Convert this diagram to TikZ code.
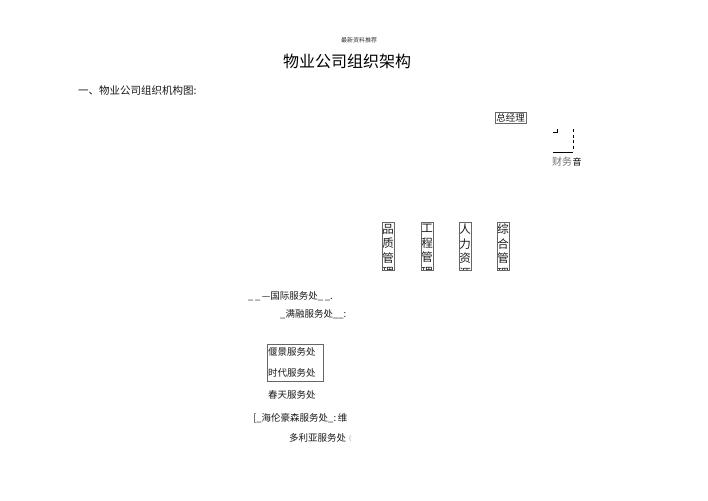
\documentclass[tikz,border=0pt]{standalone}
\usepackage{fontspec}
\setmainfont{Noto Sans CJK SC}
\begin{document}
\begin{tikzpicture}[x=1pt,y=-1pt,
  txt/.style={inner sep=0pt, anchor=west, font=\fontsize{9.5}{10}\selectfont, text=black!90},
  vbox/.style={inner sep=0pt, anchor=north, align=center, font=\fontsize{11.5}{14.5}\selectfont, text=black!90},
  frame/.style={draw=black!60, line width=0.5pt}]
\useasboundingbox (0,0) rectangle (708,500);
\node[inner sep=0pt, font=\fontsize{6}{6}\selectfont, text=black!80] (hdr) at (359,40) {最新资料推荐};
\node[inner sep=0pt, font=\fontsize{16}{16}\selectfont] (title) at (347,61) {物业公司组织架构};
\node[txt, font=\fontsize{10.5}{11}\selectfont] (sec) at (78,91) {一、物业公司组织机构图:};
\node[frame, inner sep=1pt, anchor=west, font=\fontsize{9.5}{10}\selectfont, text=black!90] (gm) at (495,118) {总经理};
% corner marks
\coordinate (c1) at (553,132);
\coordinate (c2) at (557,132);
\coordinate (c3) at (557,129);
\draw[line width=0.6pt] (c1) -- (c2) -- (c3);
\coordinate (d1) at (573,129);
\coordinate (d2) at (573,151);
\draw[line width=0.8pt, dash pattern=on 3pt off 2.5pt] (d1) -- (d2);
\coordinate (h1) at (553,152.5);
\coordinate (h2) at (573.4,152.5);
\draw[line width=0.8pt] (h1) -- (h2);
\node[txt, text=black!55, font=\fontsize{10}{10}\selectfont] (cw) at (552,162) {财务};
\node[txt, text=black, font=\fontsize{9}{9}\selectfont] (cw2) at (cw.east) {音};
% vertical departments
\begin{scope}
\clip (382,222) rectangle (394,270);
\node[vbox] (p1) at (388,224) {品\\质\\管\\理};
\end{scope}
\draw[frame] (382,222) rectangle (394,270);
\begin{scope}
\clip (421,222) rectangle (433,270);
\node[vbox] (p2) at (427,224) {工\\程\\管\\理};
\end{scope}
\draw[frame] (421,222) rectangle (433,270);
\begin{scope}
\clip (459,222) rectangle (471,270);
\node[vbox] (p3) at (465,224) {人\\力\\资\\源};
\end{scope}
\draw[frame] (459,222) rectangle (471,270);
\begin{scope}
\clip (497,222) rectangle (509,270);
\node[vbox] (p4) at (503,224) {综\\合\\管\\理};
\end{scope}
\draw[frame] (497,222) rectangle (509,270);
% service offices
\node[txt] (s1) at (248,296) {\_\,\_\,—国际服务处\_\,\_.};
\node[txt] (s2) at (280,314) {\_满融服务处\_\_:};
\node[txt] (s3) at (268,352) {偃景服务处};
\node[txt] (s4) at (268,373) {时代服务处};
\draw[frame, line width=0.4pt] (267,344) rectangle (323,381);
\node[txt] (s5) at (268,395) {春天服务处};
\node[txt] (s6) at (253,418) {[\_海伦豪森服务处\_:\,维};
\node[txt] (s7) at (289,438) {多利亚服务处};
\node[txt, text=black!50, font=\fontsize{6}{6}\selectfont] (s7b) at (349,439) {(};
\end{tikzpicture}
\end{document}
